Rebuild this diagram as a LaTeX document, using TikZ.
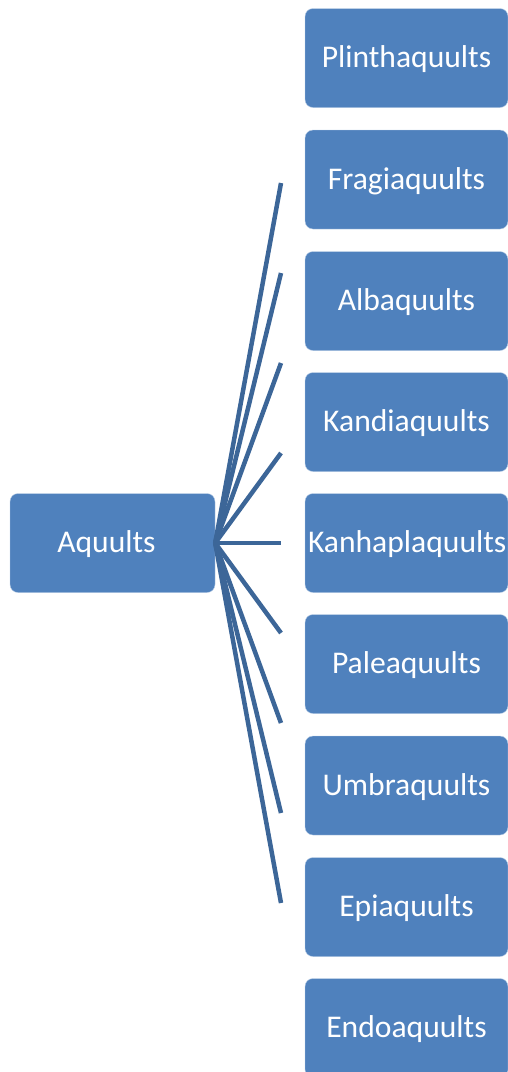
\documentclass[tikz,border=0pt]{standalone}
\usepackage{fontspec}
\setmainfont{Carlito}
\usetikzlibrary{positioning}
\usepackage{xcolor}
\definecolor{sqBlue}{HTML}{4F81BD}
\definecolor{sqLine}{HTML}{3C6698}
\tikzset{
    box/.style={
        draw=white!60!sqBlue,thin,rounded corners=8pt,fill=sqBlue,
        minimum width=203pt,minimum height=99pt,text width=197pt,inner sep=3pt,
        align=center,text=white,font=\fontsize{31.6}{36}\selectfont,
        text depth=2pt
    },
    spoke/.style={
        draw=sqLine,line width=4.5pt
    }
}
\begin{document}
\begin{tikzpicture}[x=1pt,y=-1pt]
\useasboundingbox (0,0) rectangle (508,1072);

% parent
\node[box,minimum width=205pt,text width=187pt,inner xsep=0pt,align=center](aq) at (112.5,543) {Aquults\hspace*{12pt}};

% great groups
\node[box](pl) at (406.5,58) {Plinthaquults};
\node[box](fr) at (406.5,179.5) {Fragiaquults};
\node[box](al) at (406.5,301) {Albaquults};
\node[box](kd) at (406.5,422) {Kandiaquults};
\node[box](kh) at (406.5,543) {Kanhaplaquults};
\node[box](pa) at (406.5,664) {Paleaquults};
\node[box](um) at (406.5,785.5) {Umbraquults};
\node[box](ep) at (406.5,907) {Epiaquults};
\node[box](en) at (406.5,1028) {Endoaquults};

% free ends of the spokes
\coordinate (s1) at (281,183);
\coordinate (s2) at (281,273);
\coordinate (s3) at (281,363);
\coordinate (s4) at (281,453);
\coordinate (s5) at (281,543);
\coordinate (s6) at (281,633);
\coordinate (s7) at (281,723);
\coordinate (s8) at (281,813);
\coordinate (s9) at (281,903);

\draw[spoke] (aq.east) -- (s1);
\draw[spoke] (aq.east) -- (s2);
\draw[spoke] (aq.east) -- (s3);
\draw[spoke] (aq.east) -- (s4);
\draw[spoke] (aq.east) -- (s5);
\draw[spoke] (aq.east) -- (s6);
\draw[spoke] (aq.east) -- (s7);
\draw[spoke] (aq.east) -- (s8);
\draw[spoke] (aq.east) -- (s9);

\end{tikzpicture}
\end{document}
